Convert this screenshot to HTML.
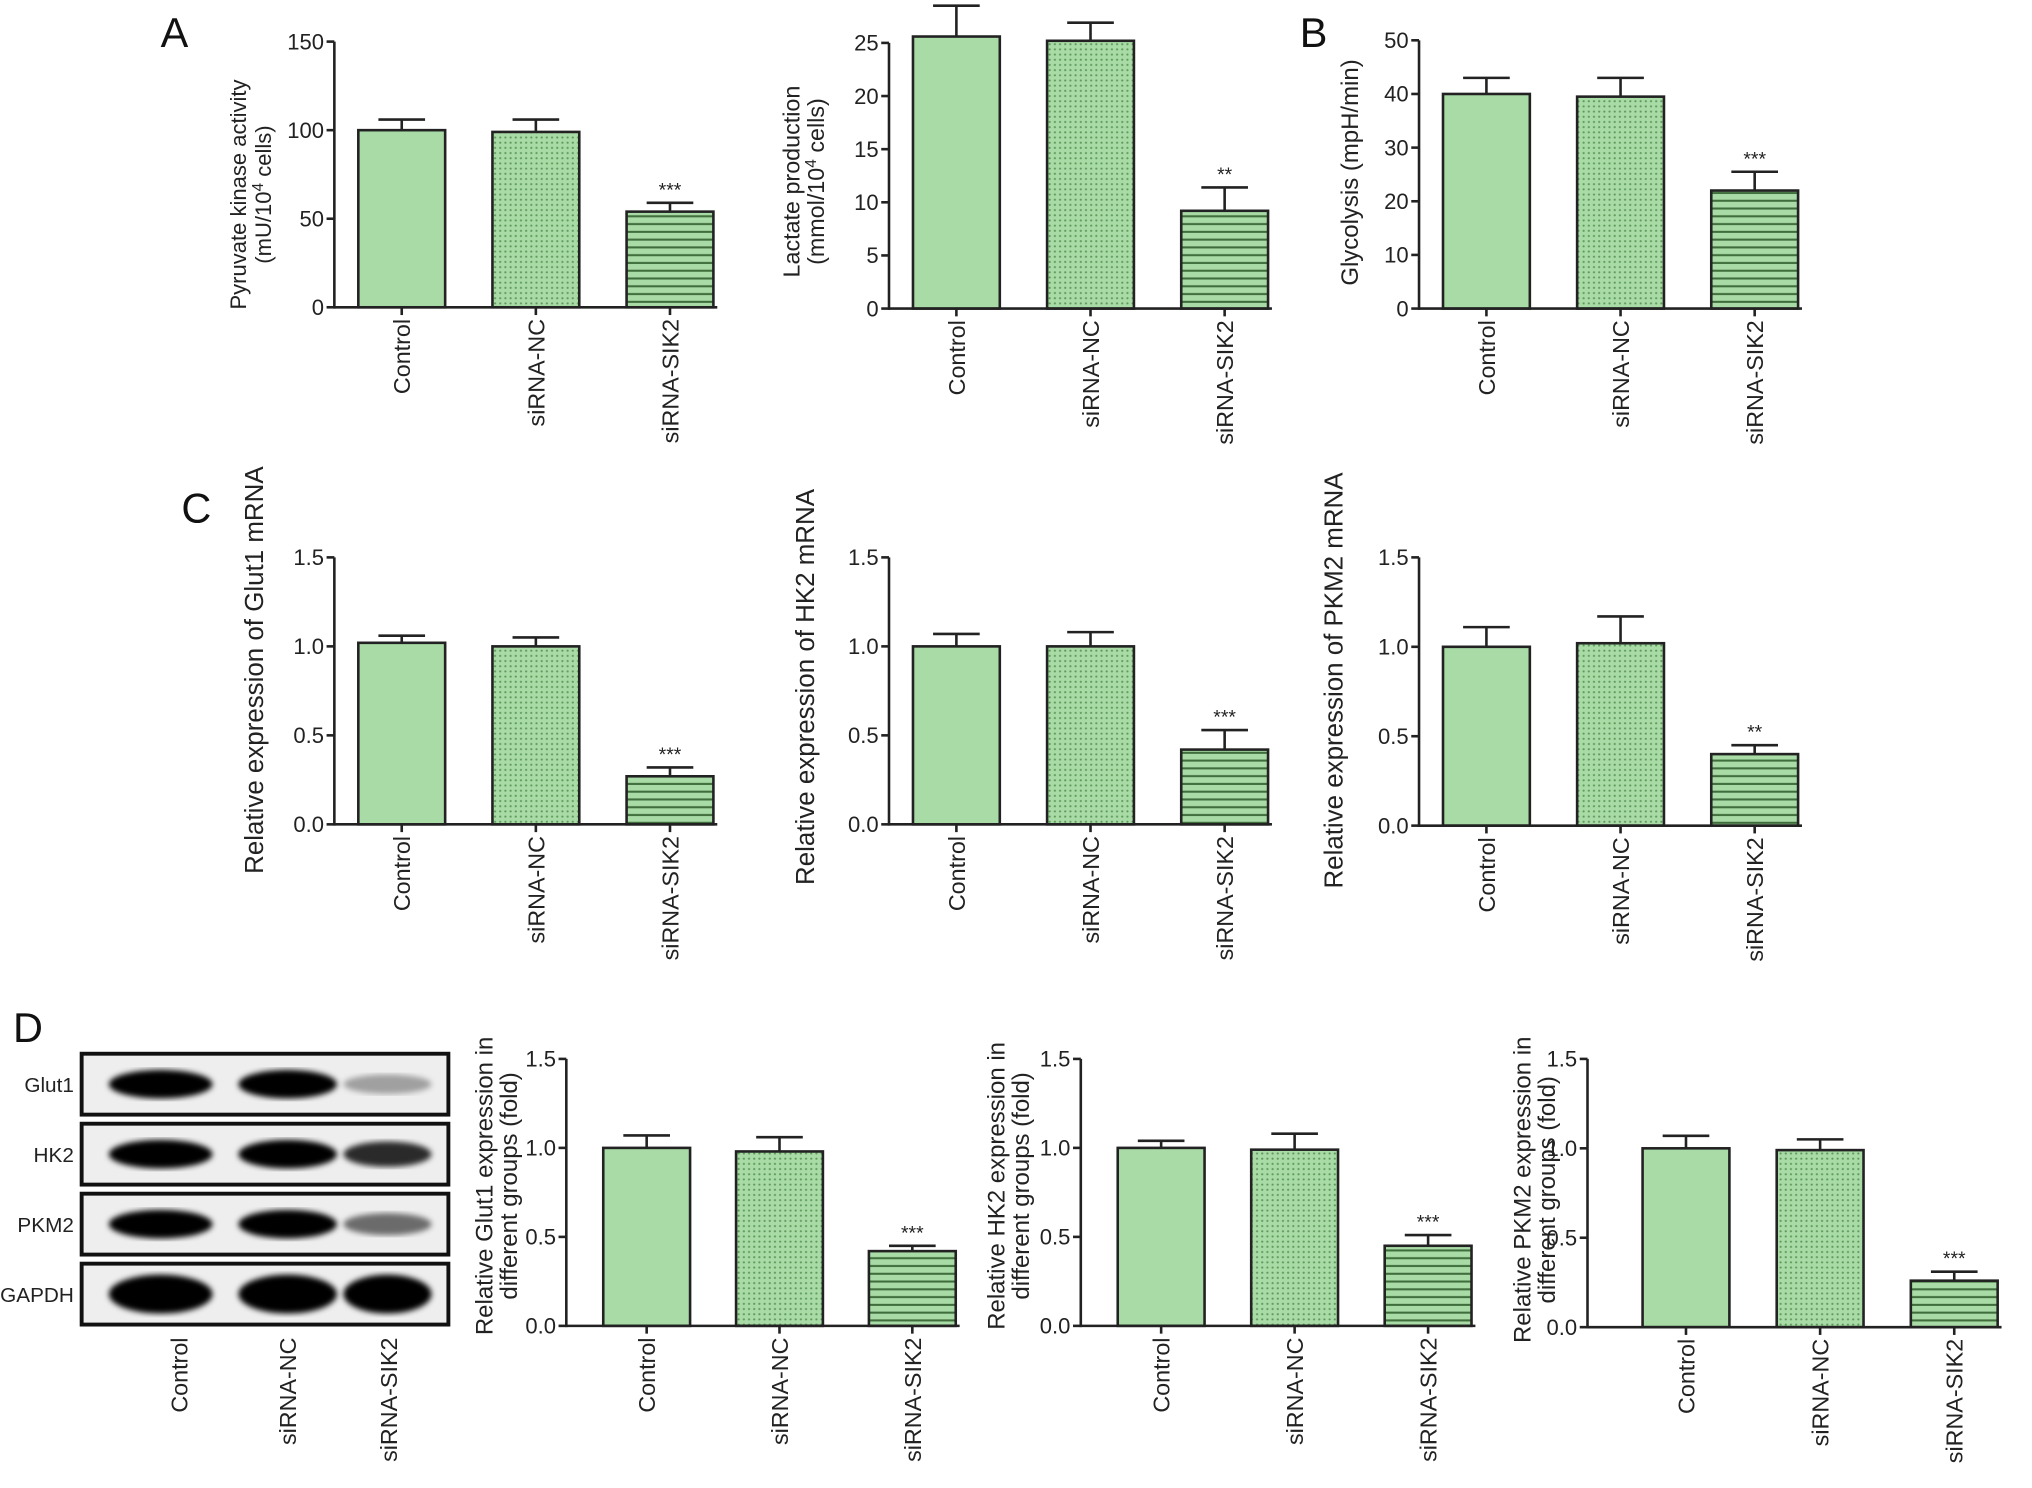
<!DOCTYPE html>
<html><head><meta charset="utf-8"><style>
html,body{margin:0;padding:0;background:#fff;}
svg{display:block;font-family:"Liberation Sans",Arial,sans-serif;}
</style></head><body>
<svg id="fig" width="2032" height="1488" viewBox="0 0 1568 1148" xmlns="http://www.w3.org/2000/svg">
<defs>
<pattern id="dots" width="4" height="4" patternUnits="userSpaceOnUse">
<rect width="4" height="4" fill="#a9dba6"/><circle cx="2" cy="2" r="0.85" fill="#5f9a5c"/>
</pattern>
<pattern id="stripes" width="6" height="6" patternUnits="userSpaceOnUse">
<rect width="6" height="6" fill="#a9dba6"/><rect y="4" width="6" height="1.6" fill="#3f6e3c"/>
</pattern>
<filter id="blur"><feGaussianBlur stdDeviation="2.2"/></filter>
</defs>
<g id="root"></g>
</svg>
<script>
// ---- data ----
const categories = ["Control","siRNA-NC","siRNA-SIK2"];
const pkValues = [100, 99, 54];
const pkErrors = [6, 7, 5];
const lacValues = [25.6, 25.2, 9.2];
const lacErrors = [2.9, 1.7, 2.2];
const glyValues = [40, 39.5, 22];
const glyErrors = [3, 3.5, 3.5];
const glut1mValues = [1.02, 1.0, 0.27];
const glut1mErrors = [0.04, 0.05, 0.05];
const hk2mValues = [1.0, 1.0, 0.42];
const hk2mErrors = [0.07, 0.08, 0.11];
const pkm2mValues = [1.0, 1.02, 0.40];
const pkm2mErrors = [0.11, 0.15, 0.05];
const glut1pValues = [1.0, 0.98, 0.42];
const glut1pErrors = [0.07, 0.08, 0.03];
const hk2pValues = [1.0, 0.99, 0.45];
const hk2pErrors = [0.04, 0.09, 0.06];
const pkm2pValues = [1.0, 0.99, 0.26];
const pkm2pErrors = [0.07, 0.06, 0.05];
const sigLabels1 = ["", "", "***"];
const sigLabelsLac = ["", "", "**"];
const sigLabelsPkm2m = ["", "", "**"];
const ticks150 = [0, 50, 100, 150];
const ticks25 = [0, 5, 10, 15, 20, 25];
const ticks50 = [0, 10, 20, 30, 40, 50];
const ticks15 = [0, 0.5, 1.0, 1.5];
const blotRows = ["Glut1","HK2","PKM2","GAPDH"];
const blotIntensity = [[1,1,0.3],[1,1,0.75],[1,1,0.5],[1,1,1]];

const NS = "http://www.w3.org/2000/svg";
const root = document.getElementById('root');
function mk(tag, attrs, parent, text){
  const e = document.createElementNS(NS, tag);
  for (const k in attrs) e.setAttribute(k, attrs[k]);
  if (text !== undefined) e.textContent = text;
  (parent||root).appendChild(e);
  return e;
}
const fills = ["#a9dba6","url(#dots)","url(#stripes)"];

function chart(opt){
  const g = mk('g', {});
  
  
  const ax = opt.ax, y0 = opt.y0, y1 = opt.y1, max = opt.ticks[opt.ticks.length-1];
  const yScale = v => y0 - (v/max)*(y0-y1);
  const xScale = i => ax + opt.off + i*opt.step;
  const bw = 67;
  opt.values.forEach((v,i)=>{
    const cx = xScale(i), top = yScale(v), et = yScale(v+opt.errors[i]);
    const eb = mk('line',{x1:cx,x2:cx,y1:top,y2:et,stroke:'#222','stroke-width':2},g);
    
    
    const cap = mk('line',{x1:cx-18,x2:cx+18,y1:et,y2:et,stroke:'#222','stroke-width':2},g);
    
    
    const r = mk('rect',{x:cx-bw/2,y:top,width:bw,height:y0-top,fill:fills[i],stroke:'#222','stroke-width':2},g);
    
    
    if (opt.sig[i]) {
      const s = mk('text',{x:cx,y:et-5,'text-anchor':'middle','font-size':15,fill:'#222'},g,opt.sig[i]);
      
      
    }
    const tk = mk('line',{x1:cx,x2:cx,y1:y0,y2:y0+6,stroke:'#222','stroke-width':2},g);
    
    
    const lb = mk('text',{transform:`translate(${cx+6.5},${y0+9}) rotate(-90)`,'text-anchor':'end','font-size':18,fill:'#222'},g,categories[i]);
    
    
  });
  const ya = mk('line',{x1:ax,x2:ax,y1:y1,y2:y0+1,stroke:'#222','stroke-width':2},g);
  
  
  const xa = mk('line',{x1:ax,x2:xScale(2)+bw/2+3,y1:y0,y2:y0,stroke:'#222','stroke-width':2},g);
  
  
  opt.ticks.forEach(t=>{
    const y = yScale(t);
    const tl = mk('line',{x1:ax-6,x2:ax,y1:y,y2:y,stroke:'#222','stroke-width':2},g);
    
    
    const tt = mk('text',{x:ax-8,y:y+6,'text-anchor':'end','font-size':17,fill:'#222'},g,opt.fmt(t));
    
    
  });
  const cy = opt.cy;
  opt.title.forEach((line,k)=>{
    const tx = mk('text',{transform:`translate(${opt.tx + k*19},${cy}) rotate(-90)`,'text-anchor':'middle','font-size':opt.fs,fill:'#222'},g);
    
    
    if (typeof line === 'object') {
      mk('tspan',{},tx,line.a);
      mk('tspan',{'baseline-shift':'super','font-size':12},tx,line.s);
      mk('tspan',{},tx,line.b);
    } else tx.textContent = line;
  });
}
const f0 = t=>String(t), f1 = t=>t.toFixed(1);
const step = 103.5, off = 52;
chart({name:'pyruvate-kinase-chart',ax:258,y0:237,y1:32,ticks:ticks150,values:pkValues,errors:pkErrors,sig:sigLabels1,fmt:f0,off,step,tx:190,cy:150,fs:17,title:['Pyruvate kinase activity',{a:'(mU/10',s:'4',b:' cells)'}]});
chart({name:'lactate-chart',ax:686,y0:238,y1:33,ticks:ticks25,values:lacValues,errors:lacErrors,sig:sigLabelsLac,fmt:f0,off,step,tx:617,cy:140,fs:18,title:['Lactate production',{a:'(mmol/10',s:'4',b:' cells)'}]});
chart({name:'glycolysis-chart',ax:1095,y0:238,y1:31,ticks:ticks50,values:glyValues,errors:glyErrors,sig:sigLabels1,fmt:f0,off,step,tx:1048,cy:133,fs:18.5,title:['Glycolysis (mpH/min)']});
chart({name:'glut1-mrna-chart',ax:258,y0:636,y1:430,ticks:ticks15,values:glut1mValues,errors:glut1mErrors,sig:sigLabels1,fmt:f1,off,step,tx:203,cy:517,fs:20,title:['Relative expression of Glut1 mRNA']});
chart({name:'hk2-mrna-chart',ax:686,y0:636,y1:430,ticks:ticks15,values:hk2mValues,errors:hk2mErrors,sig:sigLabels1,fmt:f1,off,step,tx:628,cy:530,fs:20,title:['Relative expression of HK2 mRNA']});
chart({name:'pkm2-mrna-chart',ax:1095,y0:637,y1:430,ticks:ticks15,values:pkm2mValues,errors:pkm2mErrors,sig:sigLabelsPkm2m,fmt:f1,off,step,tx:1036,cy:525,fs:20,title:['Relative expression of PKM2 mRNA']});
chart({name:'glut1-protein-chart',ax:437,y0:1023,y1:817,ticks:ticks15,values:glut1pValues,errors:glut1pErrors,sig:sigLabels1,fmt:f1,off:62,step:102.5,tx:380,cy:915,fs:18.5,title:['Relative Glut1 expression in','different groups (fold)']});
chart({name:'hk2-protein-chart',ax:834,y0:1023,y1:817,ticks:ticks15,values:hk2pValues,errors:hk2pErrors,sig:sigLabels1,fmt:f1,off:62,step:103,tx:775,cy:915,fs:18.5,title:['Relative HK2 expression in','different groups (fold)']});
chart({name:'pkm2-protein-chart',ax:1225,y0:1024,y1:817,ticks:ticks15,values:pkm2pValues,errors:pkm2pErrors,sig:sigLabels1,fmt:f1,off:76,step:103.5,tx:1181,cy:918,fs:18.5,title:['Relative PKM2 expression in','different groups (fold)']});

// western blot
const wb = mk('g',{});


const laneX = [124, 222, 299];
const laneW = [40, 38, 34];
blotRows.forEach((name,r)=>{
  const top = 813 + r*54, h = 47;
  const box = mk('rect',{x:63,y:top,width:283,height:h,fill:'#eeeeee',stroke:'#111','stroke-width':3},wb);
  
  
  blotIntensity[r].forEach((v,i)=>{
    const b = mk('ellipse',{cx:laneX[i],cy:top+h/2,rx:laneW[i],ry:(r===3?10:6)+5*v,fill:'#000','fill-opacity':Math.min(1,v*1.1),filter:'url(#blur)'},wb);
    
    
  });
  const lb = mk('text',{x:57,y:top+h/2+6,'text-anchor':'end','font-size':16,fill:'#222'},wb,name);
  
  
});
const laneLabelX = [138, 222, 300];
categories.forEach((c,i)=>{
  const t = mk('text',{transform:`translate(${laneLabelX[i]+6.5},${1032}) rotate(-90)`,'text-anchor':'end','font-size':18,fill:'#222'},wb,c);
  
  
});

[['A',124,36],['B',1003,36],['C',140,403],['D',10,804]].forEach(p=>{
  const t = mk('text',{x:p[1],y:p[2],'font-size':32,fill:'#111'},root,p[0]);
  
  
});
</script>
</body></html>
